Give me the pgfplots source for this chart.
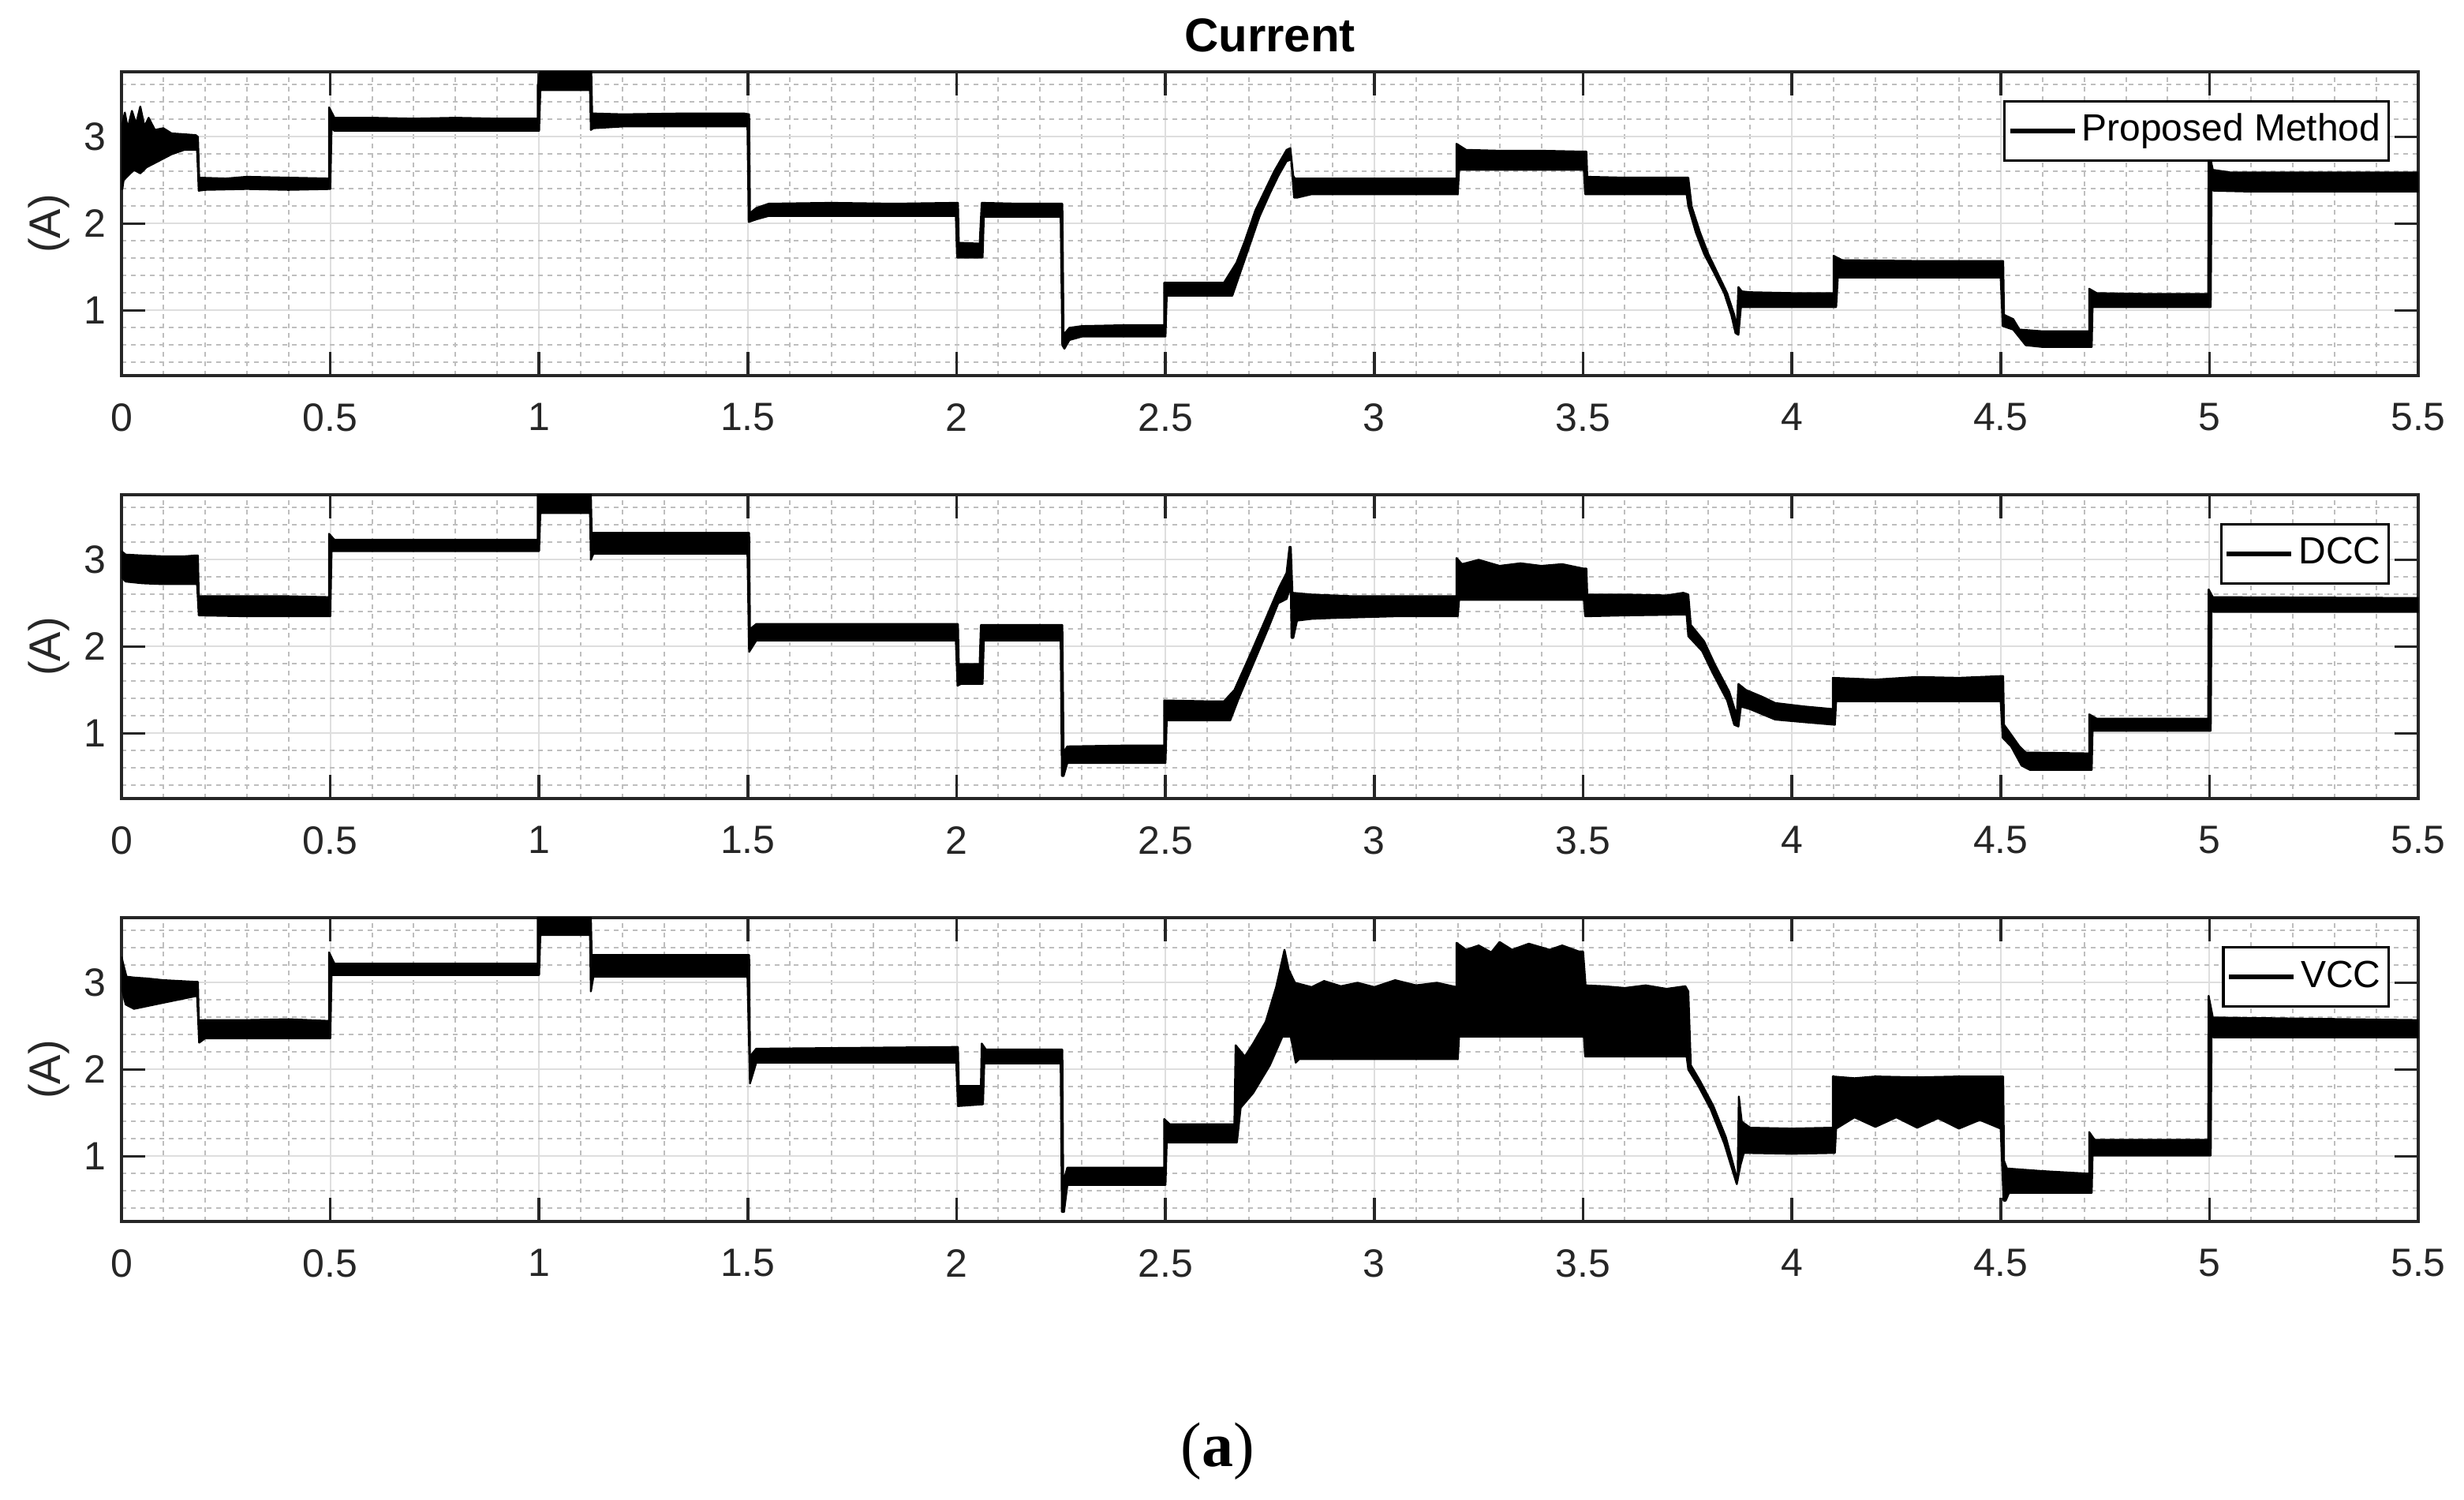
\documentclass[border=0pt]{standalone}
\usepackage{pgfplots}
\pgfplotsset{compat=1.18}
\usepackage{fontspec}
\setmainfont{Liberation Sans}
\newfontfamily\capfont{Liberation Serif}
\definecolor{axc}{RGB}{38,38,38}
\definecolor{gmaj}{RGB}{222,222,222}
\definecolor{gmin}{RGB}{190,190,190}
\pgfplotsset{
  cur/.style={
    width=727.75pt, height=96.25pt, scale only axis,
    xmin=0, xmax=5.5, ymin=0.25, ymax=3.75,
    xtick={0,0.5,1,1.5,2,2.5,3,3.5,4,4.5,5,5.5},
    ytick={1,2,3},
    minor xtick={0.1,0.2,0.3,0.4,0.6,0.7,0.8,0.9,1.1,1.2,1.3,1.4,1.6,1.7,1.8,1.9,2.1,2.2,2.3,2.4,2.6,2.7,2.8,2.9,3.1,3.2,3.3,3.4,3.6,3.7,3.8,3.9,4.1,4.2,4.3,4.4,4.6,4.7,4.8,4.9,5.1,5.2,5.3,5.4},
    minor ytick={0.4,0.6,0.8,1.2,1.4,1.6,1.8,2.2,2.4,2.6,2.8,3.2,3.4,3.6},
    grid=both,
    major grid style={line width=0.5pt, gmaj},
    minor grid style={line width=0.5pt, gmin, dash pattern=on 1.5pt off 1.5pt},
    tick align=inside, tick pos=both,
    major tick length=7.5pt, minor tick length=0pt,
    every tick/.style={line width=0.9pt, axc},
    axis line style={line width=0.9pt, axc},
    /pgf/number format/assume math mode=true,
    tick label style={font=\fontsize{12.5}{15}\selectfont, color=axc},
    xticklabel style={yshift=-5.3pt},
    yticklabel style={xshift=-1.3pt},
    ylabel={(A)},
    ylabel style={at={(axis description cs:-0.0316,0.5)}, anchor=center, font=\fontsize{14}{16}\selectfont, color=axc},
    legend style={at={(rel axis cs:1,1)}, anchor=north east, xshift=-9pt, yshift=-9pt,
      draw=black, line width=0.8pt, fill=white,
      font=\fontsize{12}{14}\selectfont, inner xsep=1pt, inner ysep=2.1pt,
      nodes={inner sep=1.5pt, text height=9pt, text depth=2.5pt}},
    legend image code/.code={\draw[#1] (0pt,0pt) -- (20.5pt,0pt);},
    legend cell align=left,
  },
  band/.style={fill=black, draw=black, line width=0.6pt, line join=round, forget plot},
}
\begin{document}
\begin{tikzpicture}
\useasboundingbox (-38.5pt,-452.5pt) rectangle (742.25pt,22.75pt);
% ---------------- Proposed Method ----------------
\begin{axis}[cur, at={(0pt,0pt)}, anchor=north west]
\addplot[band] coordinates {
(0,2.42) (0.002,3.15) (0.008,3.28) (0.015,3.1) (0.025,3.3) (0.035,3.15) (0.045,3.35) (0.055,3.12) (0.065,3.22) (0.08,3.08) (0.1,3.1) (0.12,3.04) (0.15,3.03) (0.178,3.02)
(0.183,3.0) (0.186,2.53) (0.25,2.52) (0.3,2.54) (0.4,2.53) (0.497,2.52)
(0.497,3.34) (0.51,3.22) (0.6,3.22) (0.7,3.21) (0.8,3.22) (0.9,3.21) (0.997,3.21)
(0.997,3.6) (1.003,3.75) (1.12,3.75)
(1.125,3.75) (1.127,3.27) (1.2,3.26) (1.35,3.27) (1.49,3.27) (1.503,3.26)
(1.505,2.12) (1.52,2.18) (1.55,2.23) (1.7,2.24) (1.85,2.23) (1.997,2.24)
(2.003,2.24) (2.005,1.78) (2.055,1.77)
(2.06,2.24) (2.15,2.23) (2.245,2.23)
(2.253,2.23) (2.256,0.72) (2.27,0.8) (2.3,0.82) (2.4,0.83) (2.497,0.83)
(2.497,1.32) (2.55,1.32) (2.64,1.32)
(2.67,1.55) (2.69,1.8) (2.715,2.15) (2.74,2.4) (2.76,2.6) (2.79,2.85) (2.799,2.87)
(2.806,2.55) (2.81,2.52) (2.9,2.52) (3.0,2.52) (3.1,2.52) (3.197,2.52)
(3.197,2.92) (3.22,2.85) (3.3,2.84) (3.4,2.84) (3.5,2.83)
(3.508,2.83) (3.51,2.54) (3.6,2.53) (3.7,2.53) (3.752,2.53)
(3.76,2.2) (3.78,1.9) (3.8,1.65) (3.82,1.45) (3.845,1.2) (3.862,0.95) (3.868,0.8)
(3.872,1.27) (3.88,1.22) (3.9,1.21) (4.0,1.2) (4.1,1.2)
(4.1,1.63) (4.12,1.58) (4.3,1.57) (4.5,1.57)
(4.506,1.57) (4.508,0.95) (4.53,0.9) (4.545,0.78) (4.6,0.76) (4.712,0.76)
(4.712,1.25) (4.73,1.2) (4.85,1.19) (4.997,1.19)
(4.998,2.85) (5.008,2.62) (5.05,2.59) (5.2,2.59) (5.35,2.59) (5.5,2.59)
(5.5,2.37) (5.3,2.37) (5.1,2.37) (5.01,2.38) (5.005,2.4) (5.003,1.04)
(4.85,1.04) (4.72,1.04) (4.718,0.58)
(4.6,0.58) (4.56,0.6) (4.53,0.78) (4.505,0.82) (4.5,1.38)
(4.3,1.38) (4.11,1.38) (4.106,1.04)
(4.0,1.04) (3.9,1.04) (3.878,1.04) (3.872,0.72) (3.865,0.74)
(3.855,0.95) (3.838,1.2) (3.812,1.45) (3.79,1.65) (3.77,1.9) (3.752,2.2) (3.748,2.34)
(3.6,2.34) (3.505,2.34) (3.502,2.62)
(3.4,2.62) (3.25,2.62) (3.203,2.62) (3.2,2.34)
(3.0,2.34) (2.85,2.34) (2.815,2.3) (2.808,2.3) (2.801,2.74) (2.79,2.72) (2.77,2.55)
(2.75,2.35) (2.725,2.08) (2.70,1.73) (2.68,1.45) (2.66,1.17) (2.55,1.17) (2.503,1.17) (2.5,0.70)
(2.4,0.70) (2.3,0.70) (2.27,0.66) (2.258,0.56) (2.253,0.6) (2.249,2.08)
(2.15,2.08) (2.065,2.08) (2.062,1.61)
(2.03,1.61) (2.001,1.61) (1.998,2.09)
(1.85,2.09) (1.7,2.09) (1.55,2.09) (1.52,2.05) (1.502,2.02) (1.499,3.12)
(1.35,3.12) (1.2,3.12) (1.13,3.1) (1.124,3.08) (1.122,3.54)
(1.05,3.54) (1.003,3.54) (1.0,3.07)
(0.8,3.07) (0.6,3.07) (0.51,3.07) (0.503,3.1) (0.5,2.40)
(0.4,2.39) (0.3,2.40) (0.2,2.39) (0.185,2.38) (0.181,2.85)
(0.15,2.85) (0.12,2.8) (0.1,2.75) (0.08,2.7) (0.06,2.65) (0.045,2.58) (0.03,2.62) (0.015,2.55) (0.005,2.5) (0.002,2.4) (0,2.4)
};
\addlegendimage{black, line width=1.5pt}
\addlegendentry{Proposed Method}
\end{axis}
% ---------------- DCC ----------------
\begin{axis}[cur, at={(0pt,-134pt)}, anchor=north west]
\addplot[band] coordinates {
(0,3.1) (0.01,3.06) (0.05,3.05) (0.1,3.04) (0.15,3.04) (0.178,3.05)
(0.183,3.05) (0.185,2.58) (0.3,2.58) (0.4,2.58) (0.497,2.57)
(0.497,3.3) (0.51,3.23) (0.7,3.23) (0.9,3.23) (0.997,3.23)
(0.997,3.75) (1.12,3.75)
(1.124,3.75) (1.126,3.31) (1.3,3.31) (1.503,3.31)
(1.505,2.2) (1.52,2.26) (1.7,2.26) (1.997,2.26)
(2.003,2.26) (2.005,1.8) (2.055,1.8)
(2.058,2.25) (2.15,2.25) (2.248,2.25)
(2.253,2.25) (2.256,0.78) (2.265,0.85) (2.4,0.86) (2.497,0.86)
(2.497,1.38) (2.6,1.37) (2.64,1.37)
(2.665,1.5) (2.705,1.93) (2.74,2.32) (2.772,2.68) (2.79,2.85) (2.797,3.15) (2.8,3.15)
(2.804,2.62) (2.85,2.6) (2.95,2.58) (3.05,2.58) (3.197,2.58)
(3.197,3.02) (3.21,2.95) (3.25,3.0) (3.3,2.93) (3.35,2.96) (3.4,2.93) (3.45,2.95) (3.5,2.9)
(3.508,2.9) (3.51,2.6) (3.6,2.6) (3.7,2.59) (3.74,2.62) (3.752,2.6)
(3.758,2.25) (3.79,2.06) (3.815,1.8) (3.85,1.48) (3.868,1.2)
(3.872,1.57) (3.89,1.5) (3.93,1.42) (3.96,1.35) (4.03,1.31) (4.098,1.28)
(4.098,1.64) (4.2,1.62) (4.3,1.65) (4.4,1.64) (4.5,1.66)
(4.506,1.66) (4.508,1.1) (4.52,1.02) (4.545,0.85) (4.56,0.78) (4.712,0.77)
(4.712,1.22) (4.73,1.17) (4.997,1.17)
(4.998,2.66) (5.008,2.57) (5.5,2.56)
(5.5,2.4) (5.01,2.4) (5.005,2.42) (5.003,1.03) (4.95,1.03) (4.72,1.03) (4.718,0.58) (4.57,0.58) (4.55,0.63) (4.525,0.85) (4.505,0.95) (4.5,1.37)
(4.3,1.37) (4.106,1.37) (4.103,1.1) (4.03,1.13) (3.96,1.16) (3.9,1.28) (3.878,1.31) (3.872,1.08) (3.862,1.1) (3.845,1.38) (3.81,1.70) (3.785,1.95) (3.752,2.12) (3.748,2.37)
(3.6,2.36) (3.505,2.35) (3.502,2.54) (3.4,2.54) (3.203,2.54) (3.2,2.35) (3.05,2.35) (2.9,2.33) (2.85,2.32) (2.815,2.3) (2.806,2.1) (2.802,2.1) (2.8,2.7) (2.79,2.55)
(2.77,2.5) (2.745,2.2) (2.71,1.8) (2.675,1.4) (2.655,1.15) (2.503,1.15) (2.5,0.66) (2.3,0.66) (2.265,0.66) (2.256,0.51) (2.252,0.51) (2.249,2.07)
(2.15,2.07) (2.065,2.07) (2.062,1.57) (2.01,1.57) (2.002,1.55) (1.998,2.07) (1.7,2.07) (1.52,2.07) (1.503,1.94) (1.499,3.07)
(1.3,3.07) (1.13,3.07) (1.124,3.0) (1.122,3.54) (1.003,3.54) (1.0,3.10) (0.503,3.10) (0.5,2.35) (0.3,2.35) (0.185,2.36) (0.181,2.72) (0.1,2.72) (0.05,2.73) (0.01,2.75) (0,2.8)
};
\addlegendimage{black, line width=1.5pt}
\addlegendentry{DCC}
\end{axis}
% ---------------- VCC ----------------
\begin{axis}[cur, at={(0pt,-268pt)}, anchor=north west]
\addplot[band] coordinates {
(0,3.3) (0.005,3.2) (0.012,3.07) (0.03,3.06) (0.06,3.05) (0.1,3.03) (0.14,3.02) (0.178,3.01)
(0.183,3.01) (0.185,2.57) (0.3,2.57) (0.4,2.58) (0.497,2.56)
(0.497,3.35) (0.51,3.22) (0.7,3.22) (0.9,3.22) (0.997,3.22)
(0.997,3.75) (1.12,3.75)
(1.124,3.75) (1.126,3.32) (1.3,3.32) (1.503,3.32)
(1.505,2.15) (1.52,2.24) (1.998,2.26)
(2.003,2.26) (2.005,1.81) (2.058,1.81)
(2.06,2.3) (2.07,2.23) (2.248,2.23)
(2.253,2.23) (2.255,0.7) (2.265,0.87) (2.4,0.87) (2.497,0.87)
(2.497,1.43) (2.51,1.37) (2.6,1.37) (2.665,1.37)
(2.668,2.28) (2.69,2.15) (2.71,2.3) (2.74,2.55) (2.765,2.95) (2.785,3.38) (2.795,3.15) (2.81,3.0)
(2.85,2.95) (2.88,3.02) (2.92,2.96) (2.96,3.0) (3.0,2.95) (3.05,3.03) (3.1,2.97) (3.15,3.0) (3.197,2.95)
(3.197,3.46) (3.22,3.38) (3.25,3.43) (3.28,3.35) (3.3,3.47) (3.33,3.38) (3.37,3.45) (3.42,3.38) (3.45,3.43) (3.49,3.36) (3.5,3.36)
(3.506,2.97) (3.55,2.96) (3.6,2.94) (3.65,2.97) (3.7,2.93) (3.745,2.96) (3.752,2.9)
(3.758,2.05) (3.78,1.87) (3.812,1.58) (3.842,1.22) (3.87,0.72)
(3.873,1.69) (3.88,1.4) (3.9,1.33) (4.0,1.32) (4.098,1.33)
(4.098,1.92) (4.15,1.9) (4.2,1.92) (4.3,1.91) (4.4,1.92) (4.5,1.92)
(4.506,1.92) (4.508,0.95) (4.515,0.86) (4.6,0.83) (4.712,0.8)
(4.712,1.28) (4.725,1.19) (4.997,1.19)
(4.998,2.85) (5.008,2.6) (5.5,2.57)
(5.5,2.37) (5.01,2.37) (5.005,2.4) (5.003,1.01) (4.72,1.01) (4.718,0.58) (4.6,0.58) (4.52,0.58) (4.512,0.49) (4.507,0.49) (4.5,1.32)
(4.45,1.42) (4.4,1.32) (4.35,1.44) (4.3,1.33) (4.25,1.45) (4.2,1.34) (4.15,1.45) (4.106,1.32) (4.103,1.04)
(4.0,1.03) (3.885,1.04) (3.877,0.9) (3.868,0.68) (3.838,1.15) (3.805,1.55) (3.775,1.82) (3.752,2.0) (3.748,2.15)
(3.6,2.15) (3.505,2.15) (3.502,2.38) (3.4,2.38) (3.203,2.38) (3.2,2.12) (3.0,2.12) (2.85,2.12) (2.82,2.12) (2.812,2.08) (2.8,2.38) (2.78,2.38)
(2.75,2.05) (2.71,1.73) (2.68,1.56) (2.671,1.16) (2.503,1.16) (2.5,0.67) (2.265,0.67) (2.257,0.36) (2.252,0.36) (2.249,2.07)
(2.066,2.07) (2.063,1.6) (2.003,1.58) (1.999,2.08) (1.52,2.08) (1.505,1.84) (1.499,3.07)
(1.13,3.07) (1.124,2.9) (1.122,3.55) (1.003,3.55) (1.0,3.09) (0.503,3.09) (0.5,2.36) (0.2,2.36) (0.186,2.31) (0.181,2.85) (0.1,2.77) (0.03,2.70) (0.01,2.75) (0,2.95)
};
\addlegendimage{black, line width=1.5pt}
\addlegendentry{VCC}
\end{axis}
\node[font=\fontsize{15}{18}\selectfont\bfseries] at (363.875pt,11.5pt) {Current};
\node[font=\capfont\fontsize{20}{24}\selectfont] at (347.25pt,-437pt) {(\textbf{a})};
\end{tikzpicture}
\end{document}
